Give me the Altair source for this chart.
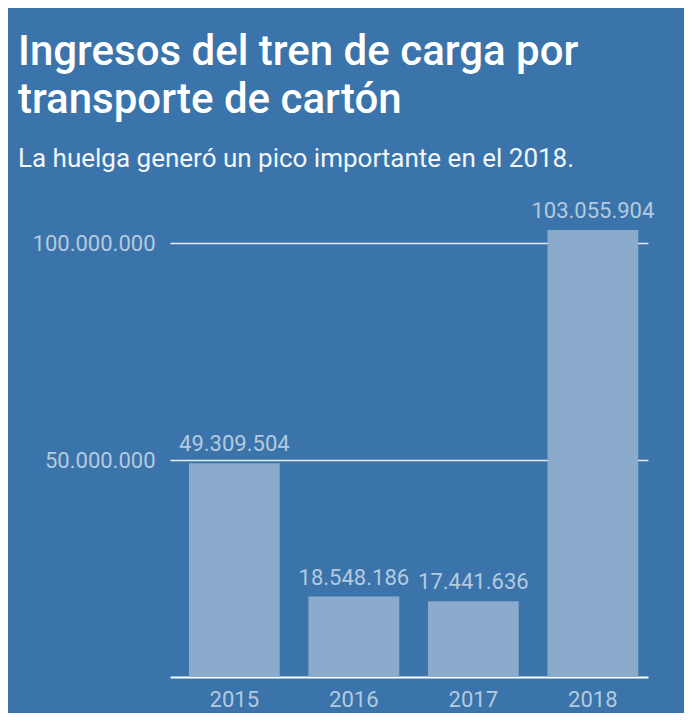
import altair as alt
import pandas as pd

years = ["2015", "2016", "2017", "2018"]
ingresos = [49309504, 18548186, 17441636, 103055904]

df = pd.DataFrame({"year": years, "value": ingresos})

BG = "#3b74aa"
BAR = "#8aabcb"
LAB = "#b4cadf"

x = alt.X("year:N", title=None,
          scale=alt.Scale(paddingInner=0.24, paddingOuter=0.12, align=0.66),
          axis=alt.Axis(labelAngle=0, ticks=False, domain=True, domainColor="white",
                        domainWidth=2, labelColor=LAB, labelFontSize=22,
                        labelFont="Roboto", labelPadding=12, grid=False))
y = alt.Y("value:Q", title=None,
          scale=alt.Scale(domain=[0, 110000000], nice=False),
          axis=alt.Axis(values=[50000000, 100000000], format=",d", ticks=False, domain=False,
                        grid=True, gridColor="#e6eef5", gridWidth=1.5,
                        labelColor=LAB, labelFontSize=22, labelFont="Roboto",
                        labelPadding=15))

bars = alt.Chart(df).mark_bar(color=BAR).encode(x=x, y=y)
labels = alt.Chart(df).mark_text(baseline="bottom", dy=-7, color=LAB, fontSize=22,
                                 font="Roboto").encode(
    x=x, y=y, text=alt.Text("value:Q", format=",d"))

chart = (bars + labels).properties(
    width=478, height=477,
    title=alt.TitleParams(
        text=["Ingresos del tren de carga por", "transporte de cartón"],
        subtitle="La huelga generó un pico importante en el 2018.",
        anchor="start", frame="group", dx=-152,
        font="Roboto", fontSize=42, fontWeight=500, color="white", lineHeight=48,
        subtitleFont="Roboto", subtitleFontSize=26, subtitleColor="#f2f6fa",
        subtitlePadding=24, offset=27,
    ),
    autosize=alt.AutoSizeParams(type="none"),
    padding={"left": 162, "top": 192, "right": 36, "bottom": 36},
    background=BG,
).configure(
    locale={"number": {"decimal": ",", "thousands": ".", "grouping": [3], "currency": ["", " €"]}}
).configure_view(stroke=None)

chart.save("out.html", embed_options={"renderer": "svg", "actions": False})
